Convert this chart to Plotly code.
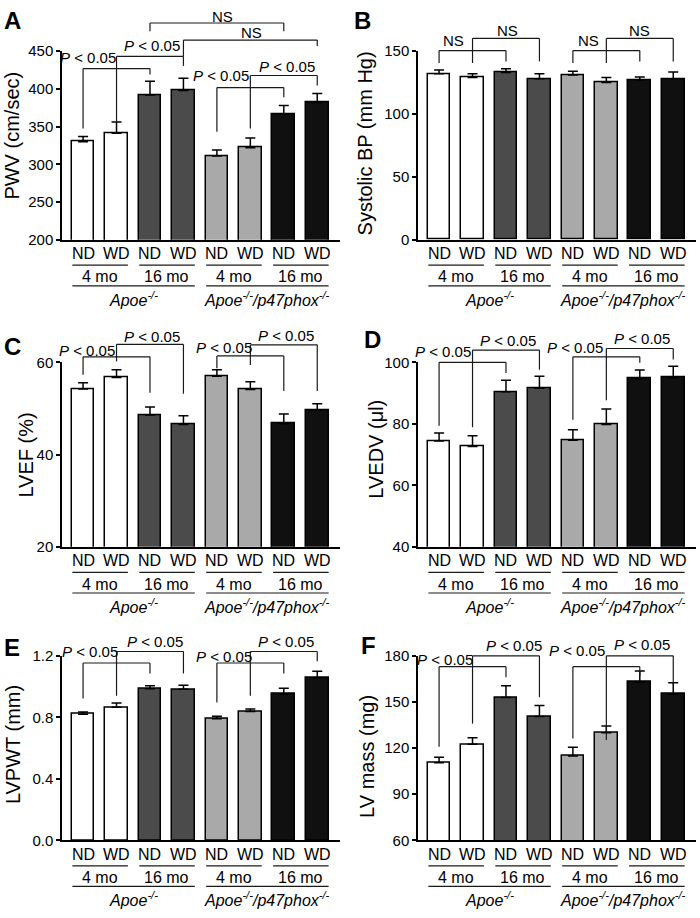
import plotly.graph_objects as go

W, H = 700, 918

groups = ['ND', 'WD', 'ND', 'WD', 'ND', 'WD', 'ND', 'WD']
ages = ['4 mo', '16 mo', '4 mo', '16 mo']
genotypes = ['<i>Apoe<sup>-/-</sup></i>', '<i>Apoe<sup>-/-</sup>/p47phox<sup>-/-</sup></i>']
bar_colors = ['white', 'white', '#4b4b4b', '#4b4b4b', '#a9a9a9', '#a9a9a9', '#101010', '#101010']

pwv = [330, 341, 392, 398, 311, 322, 367, 382]
pwv_err = [7, 15, 18, 16, 8, 13, 11, 12]
sbp = [132, 129, 133, 128, 131, 125, 127, 128]
sbp_err = [3, 3, 3, 4, 3, 4, 2.5, 5.5]
lvef = [54.2, 56.7, 48.6, 46.5, 57.0, 54.1, 46.7, 49.6]
lvef_err = [1.4, 1.7, 1.7, 1.9, 1.4, 1.7, 2.1, 1.4]
lvedv = [74.4, 72.6, 90.4, 91.6, 74.7, 79.8, 94.7, 95.0]
lvedv_err = [2.6, 3.5, 3.8, 3.9, 3.4, 5.0, 2.8, 3.7]
lvpwt = [0.82, 0.865, 0.985, 0.982, 0.79, 0.837, 0.95, 1.057]
lvpwt_err = [0.015, 0.028, 0.021, 0.026, 0.017, 0.017, 0.039, 0.043]
lvmass = [110.5, 122.4, 152.9, 140.6, 114.8, 129.9, 162.8, 155.0]
lvmass_err = [3.5, 4.3, 7.7, 7.1, 5.8, 4.5, 7.3, 7.4]

P = '<i>P</i> < 0.05'
NS = 'NS'

# significance brackets: (bar i, bar j, top, left leg end, right leg end, label, label x, label y)
br_a = [(0, 2, 426.9, 347.5, 419, P, 0.15, 441),
        (1, 3, 443.1, 356.3, 430.5, P, 2.07, 457.8),
        (2, 6, 487.4, 476.4, 476.4, NS, 4.18, 495.6),
        (3, 7, 464.7, 443.1, 456.9, NS, 5.04, 474.7),
        (4, 6, 401.8, 343.2, 388.8, P, 4.12, 417.4),
        (5, 7, 417.8, 347.5, 404.4, P, 6.1, 430)]
br_b = [(0, 2, 150.5, 140.6, 141.9, NS, 0.44, 158.4),
        (1, 3, 160.2, 140.6, 141.9, NS, 2.04, 166.7),
        (4, 6, 150.5, 140.6, 141.9, NS, 4.47, 158.4),
        (5, 7, 160.2, 140.6, 141.9, NS, 5.99, 166.7)]
br_c = [(0, 2, 61.2, 57.3, 53.4, P, 0.12, 62.6),
        (1, 3, 63.9, 60.2, 53.2, P, 2.06, 65.7),
        (4, 6, 61.4, 58.7, 53.8, P, 4.21, 63.3),
        (5, 7, 63.8, 59.4, 53.8, P, 6.07, 65.8)]
br_d = [(0, 2, 100, 79.4, 96.5, P, 0.13, 103.4),
        (1, 3, 104, 78.9, 97.6, P, 2.07, 107),
        (4, 6, 101.8, 81.3, 99.9, P, 4.07, 104.7),
        (5, 7, 104.5, 87.7, 100.9, P, 6.07, 107.6)]
br_e = [(0, 2, 1.153, 0.922, 1.085, P, 0.21, 1.228),
        (1, 3, 1.228, 0.94, 1.085, P, 2.15, 1.293),
        (4, 6, 1.153, 0.897, 1.085, P, 4.21, 1.196),
        (5, 7, 1.228, 0.94, 1.164, P, 6.08, 1.293)]
br_f = [(0, 2, 172.9, 120.9, 166, P, 0.19, 177.8),
        (1, 3, 180, 135.9, 153.1, P, 2.23, 186.5),
        (4, 6, 172.9, 126.2, 167.1, P, 4.13, 183.2),
        (5, 7, 180, 125.2, 161.1, P, 6.07, 187.5)]

panels = [
    dict(letter='A', title='PWV (cm/sec)', y=pwv, err=pwv_err, rng=[200, 450],
         ticks=[200, 250, 300, 350, 400, 450], fmt='', col=0, row=0, br=br_a,
         title_px=(12, 129), letter_px=(12, 12)),
    dict(letter='B', title='Systolic BP (mm Hg)', y=sbp, err=sbp_err, rng=[0, 150],
         ticks=[0, 50, 100, 150], fmt='', col=1, row=0, br=br_b,
         title_px=(365, 137), letter_px=(362, 12)),
    dict(letter='C', title='LVEF (%)', y=lvef, err=lvef_err, rng=[20, 60],
         ticks=[20, 40, 60], fmt='', col=0, row=1, br=br_c,
         title_px=(26, 455), letter_px=(12, 344)),
    dict(letter='D', title='LVEDV (μl)', y=lvedv, err=lvedv_err, rng=[40, 100],
         ticks=[40, 60, 80, 100], fmt='', col=1, row=1, br=br_d,
         title_px=(376, 449), letter_px=(373, 337)),
    dict(letter='E', title='LVPWT (mm)', y=lvpwt, err=lvpwt_err, rng=[0, 1.2],
         ticks=[0, 0.4, 0.8, 1.2], fmt='.1f', col=0, row=2, br=br_e,
         title_px=(13, 750), letter_px=(12, 651)),
    dict(letter='F', title='LV mass (mg)', y=lvmass, err=lvmass_err, rng=[60, 180],
         ticks=[60, 90, 120, 150, 180], fmt='', col=1, row=2, br=br_f,
         title_px=(367, 761), letter_px=(368, 649)),
]

cols = [(62, 340), (418, 696)]
rows = [(43, 235), (360, 548), (659, 847)]
xr = [-0.63, 7.68]
FONT = 'Arial, Liberation Sans, sans-serif'
LINE = '#1a1a1a'

fig = go.Figure()
layout = {}
shapes = []
annotations = []

for k, p in enumerate(panels):
    n = '' if k == 0 else str(k + 1)
    xa, ya = 'x' + n, 'y' + n
    yd = ya + ' domain'
    x0, x1 = cols[p['col']]
    y0, y1 = rows[p['row']]
    ph = y1 - y0
    r0, r1 = p['rng']

    fig.add_trace(go.Bar(
        x=list(range(8)), y=p['y'], xaxis=xa, yaxis=ya, width=0.68,
        marker=dict(color=bar_colors, line=dict(color='black', width=1.5)),
        error_y=dict(type='data', array=p['err'], arrayminus=[0] * 8, symmetric=False,
                     color='black', thickness=1.5, width=5),
        showlegend=False, hoverinfo='skip'))

    layout['xaxis' + n] = dict(domain=[x0 / W, x1 / W], anchor=ya, range=xr,
                               showticklabels=False, ticks='', showgrid=False, zeroline=False,
                               showline=True, linecolor='black', linewidth=1.5, fixedrange=True)
    layout['yaxis' + n] = dict(domain=[1 - y1 / H, 1 - y0 / H], anchor=xa, range=[r0, r1],
                               tickvals=p['ticks'], tickformat=p['fmt'], ticks='outside',
                               ticklen=4, tickwidth=1.5, tickcolor='black', showgrid=False,
                               zeroline=False, showline=True, linecolor='black', linewidth=1.5,
                               tickfont=dict(size=15, color='black', family=FONT), fixedrange=True)

    def d(v):
        return (v - r0) / (r1 - r0)

    def ln(xa_, xb, ya_, yb):
        shapes.append(dict(type='line', xref=xa, yref=yd, x0=xa_, x1=xb,
                           y0=ya_, y1=yb, line=dict(color=LINE, width=1.2)))

    # brackets
    for i, j, top, le, re, txt, tx, ty in p['br']:
        ln(i, i, d(le), d(top))
        ln(i, j, d(top), d(top))
        ln(j, j, d(top), d(re))
        annotations.append(dict(text=txt, xref=xa, yref=yd, x=tx, y=d(ty), showarrow=False,
                                xanchor='center', yanchor='middle',
                                font=dict(size=15, color='black', family=FONT)))

    # category labels under the axis
    for i, g in enumerate(groups):
        annotations.append(dict(text=g, xref=xa, yref=yd, x=i, y=-14 / ph,
                                showarrow=False, yanchor='middle',
                                font=dict(size=16, color='black', family=FONT)))
    for m, a in enumerate(ages):
        i = 2 * m
        ln(i - 0.32, i + 1.34, -26 / ph, -26 / ph)
        annotations.append(dict(text=a, xref=xa, yref=yd, x=i + 0.5, y=-38 / ph,
                                showarrow=False, yanchor='middle',
                                font=dict(size=16, color='black', family=FONT)))
    for m, g in enumerate(genotypes):
        i = 4 * m
        ln(i - 0.32, i + 3.34, -47 / ph, -47 / ph)
        annotations.append(dict(text=g, xref=xa, yref=yd, x=i + 1.5, y=-60 / ph,
                                showarrow=False, yanchor='middle',
                                font=dict(size=16, color='black', family=FONT)))

    # axis title and panel letter
    tx, ty = p['title_px']
    annotations.append(dict(text=p['title'], xref='paper', yref='paper', x=tx / W, y=1 - ty / H,
                            textangle=-90, showarrow=False, xanchor='center', yanchor='middle',
                            font=dict(size=20, color='black', family=FONT)))
    lx, ly = p['letter_px']
    annotations.append(dict(text='<b>' + p['letter'] + '</b>', xref='paper', yref='paper',
                            x=lx / W, y=1 - ly / H, showarrow=False, xanchor='center',
                            yanchor='middle', font=dict(size=24, color='black', family=FONT)))

fig.update_layout(width=W, height=H, margin=dict(l=0, r=0, t=0, b=0),
                  plot_bgcolor='white', paper_bgcolor='white', showlegend=False,
                  bargap=0, shapes=shapes, annotations=annotations, **layout)

# page body has a default 8px margin; drop it so the figure sits at the window corner
fig.write_html("out.html", config={'displayModeBar': False},
               post_script="document.body.style.margin='0px';document.body.style.overflow='hidden';")
